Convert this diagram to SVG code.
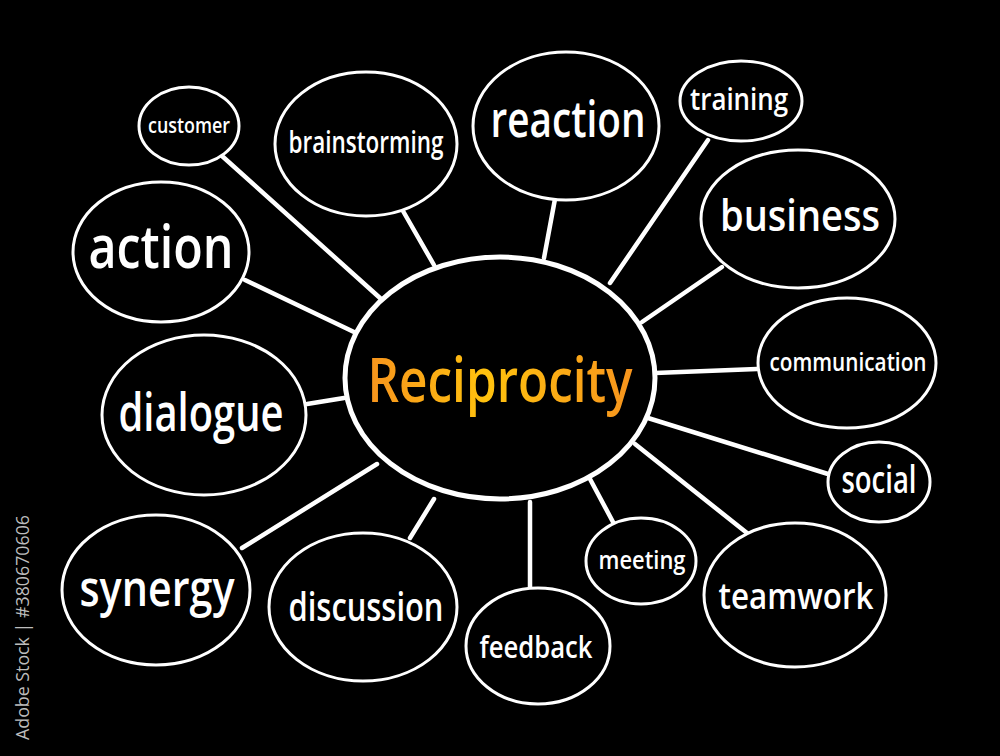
<svg xmlns="http://www.w3.org/2000/svg" width="1000" height="756" viewBox="0 0 1000 756">
<defs>
<linearGradient id="og" x1="368" y1="0" x2="633" y2="0" gradientUnits="userSpaceOnUse">
<stop offset="0" stop-color="#f7941d"/>
<stop offset="0.45" stop-color="#ffc20e"/>
<stop offset="1" stop-color="#f7941d"/>
</linearGradient>
<style>
.n{fill:#000;stroke:#fff;stroke-width:3}
.c{fill:#000;stroke:#fff;stroke-width:5}
.l{stroke:#fff;stroke-width:4.5;stroke-linecap:round;fill:none}
.t{fill:#fff;font-family:"Open Sans","Liberation Sans",sans-serif;font-weight:600;text-anchor:middle}
.side{fill:#bdbdbd;font-family:"Open Sans","Liberation Sans",sans-serif;font-size:18px}
</style>
</defs>
<rect width="1000" height="756" fill="#000"/>
<g id="connectors">
<line class="l" x1="222" y1="156" x2="380" y2="298"/>
<line class="l" x1="403" y1="211" x2="434" y2="265"/>
<line class="l" x1="245" y1="280" x2="354" y2="332"/>
<line class="l" x1="555" y1="199" x2="544" y2="258"/>
<line class="l" x1="708" y1="140" x2="610" y2="283"/>
<line class="l" x1="722" y1="267" x2="642" y2="322"/>
<line class="l" x1="757" y1="369" x2="655" y2="373"/>
<line class="l" x1="828" y1="474" x2="648" y2="418"/>
<line class="l" x1="747" y1="533" x2="635" y2="444"/>
<line class="l" x1="613" y1="522" x2="590" y2="479"/>
<line class="l" x1="530" y1="588" x2="530" y2="502"/>
<line class="l" x1="410" y1="538" x2="434" y2="499"/>
<line class="l" x1="242" y1="548" x2="377" y2="464"/>
<line class="l" x1="307" y1="404" x2="344" y2="398"/>
</g>
<g id="center"><ellipse class="c" cx="500" cy="378" rx="155" ry="121"/>
<text x="500" y="402" font-family="Open Sans, Liberation Sans, sans-serif" font-weight="600" font-size="61" text-anchor="middle" fill="url(#og)" textLength="265" lengthAdjust="spacingAndGlyphs">Reciprocity</text></g>
<g id="customer"><ellipse class="n" cx="189" cy="126" rx="50" ry="39"/><text class="t" x="189" y="133" font-size="21" textLength="82" lengthAdjust="spacingAndGlyphs">customer</text></g>
<g id="brainstorming"><ellipse class="n" cx="366" cy="144" rx="91" ry="72"/><text class="t" x="366" y="153" font-size="30" textLength="155" lengthAdjust="spacingAndGlyphs">brainstorming</text></g>
<g id="reaction"><ellipse class="n" cx="566" cy="126" rx="93" ry="74"/><text class="t" x="568" y="137" font-size="51" textLength="155" lengthAdjust="spacingAndGlyphs">reaction</text></g>
<g id="training"><ellipse class="n" cx="741" cy="101" rx="61" ry="40"/><text class="t" x="739" y="110" font-size="30" textLength="98" lengthAdjust="spacingAndGlyphs">training</text></g>
<g id="business"><ellipse class="n" cx="798" cy="219" rx="97" ry="69"/><text class="t" x="800" y="231" font-size="43" textLength="160" lengthAdjust="spacingAndGlyphs">business</text></g>
<g id="communication"><ellipse class="n" cx="847" cy="363" rx="89" ry="65"/><text class="t" x="848" y="371" font-size="25" textLength="157" lengthAdjust="spacingAndGlyphs">communication</text></g>
<g id="social"><ellipse class="n" cx="879" cy="482" rx="51" ry="40"/><text class="t" x="879" y="493" font-size="37" textLength="75" lengthAdjust="spacingAndGlyphs">social</text></g>
<g id="teamwork"><ellipse class="n" cx="795" cy="595" rx="91" ry="72"/><text class="t" x="796" y="609" font-size="36" textLength="155" lengthAdjust="spacingAndGlyphs">teamwork</text></g>
<g id="meeting"><ellipse class="n" cx="641" cy="561" rx="55" ry="43"/><text class="t" x="642" y="569" font-size="25" textLength="87" lengthAdjust="spacingAndGlyphs">meeting</text></g>
<g id="feedback"><ellipse class="n" cx="538" cy="646" rx="72" ry="58"/><text class="t" x="536" y="658" font-size="30" textLength="113" lengthAdjust="spacingAndGlyphs">feedback</text></g>
<g id="discussion"><ellipse class="n" cx="363" cy="607" rx="94" ry="74"/><text class="t" x="366" y="621" font-size="39" textLength="155" lengthAdjust="spacingAndGlyphs">discussion</text></g>
<g id="synergy"><ellipse class="n" cx="156" cy="590" rx="94" ry="75"/><text class="t" x="157" y="606" font-size="50" textLength="155" lengthAdjust="spacingAndGlyphs">synergy</text></g>
<g id="dialogue"><ellipse class="n" cx="204" cy="415" rx="102" ry="80"/><text class="t" x="201" y="431" font-size="53" textLength="165" lengthAdjust="spacingAndGlyphs">dialogue</text></g>
<g id="action"><ellipse class="n" cx="161" cy="252" rx="88" ry="70"/><text class="t" x="161" y="268" font-size="60" textLength="145" lengthAdjust="spacingAndGlyphs">action</text></g>
<text class="side" transform="translate(29,740) rotate(-90)" textLength="225" lengthAdjust="spacingAndGlyphs">Adobe Stock | #380670606</text>
</svg>
